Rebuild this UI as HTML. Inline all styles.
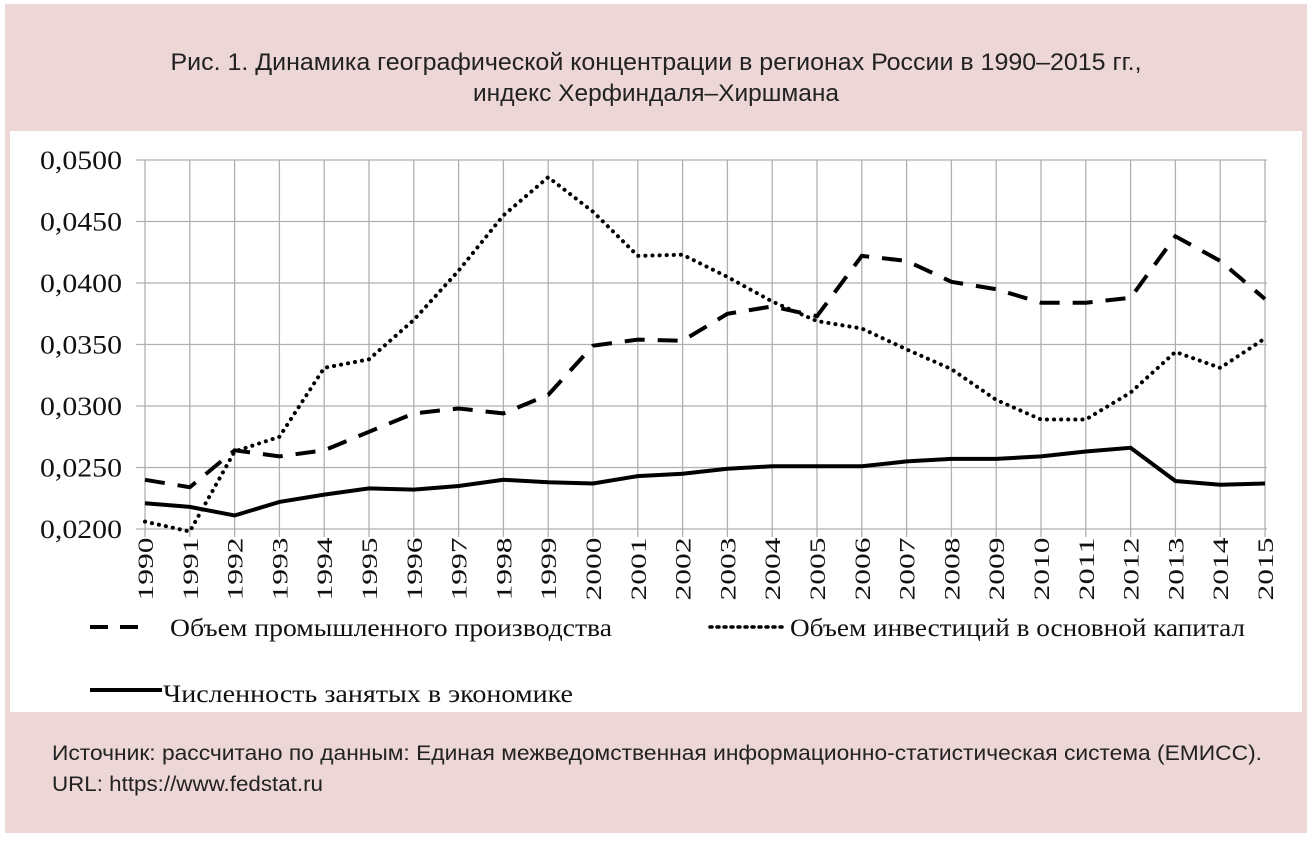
<!DOCTYPE html>
<html><head><meta charset="utf-8"><style>
html,body{margin:0;padding:0;background:#fff;}
svg{display:block;}
</style></head><body>
<svg width="1312" height="846" viewBox="0 0 1312 846" xmlns="http://www.w3.org/2000/svg">
<rect x="5" y="4" width="1302" height="829" fill="#ecd6d6"/>
<rect x="10" y="131" width="1292" height="581" fill="#fff"/>
<g font-family="Liberation Sans, sans-serif" font-size="24" fill="#222" text-anchor="middle">
<text x="656" y="70" textLength="971" lengthAdjust="spacingAndGlyphs">Рис. 1. Динамика географической концентрации в регионах России в 1990–2015 гг.,</text>
<text x="656" y="101" textLength="366" lengthAdjust="spacingAndGlyphs">индекс Херфиндаля–Хиршмана</text>
</g>
<g font-family="Liberation Sans, sans-serif" font-size="21" fill="#222">
<text x="52" y="760" textLength="1210" lengthAdjust="spacingAndGlyphs">Источник: рассчитано по данным: Единая межведомственная информационно-статистическая система (ЕМИСС).</text>
<text x="52" y="791" textLength="271" lengthAdjust="spacingAndGlyphs">URL: https://www.fedstat.ru</text>
</g>
<g id="grid" stroke="#b0b0b0" stroke-width="1.3"></g>
<g id="ylab" font-family="Liberation Serif, serif" font-size="26" fill="#111" text-anchor="end"></g>
<g id="xlab" font-family="Liberation Serif, serif" font-size="22" fill="#111"></g>
<g id="series" fill="none" stroke="#000" stroke-width="3.5"></g>
<g font-family="Liberation Serif, serif" font-size="25" fill="#111">
<line x1="90" y1="627" x2="150" y2="627" stroke="#000" stroke-width="4" stroke-dasharray="18,12"/>
<text x="170" y="636" textLength="442" lengthAdjust="spacingAndGlyphs">Объем промышленного производства</text>
<line x1="710" y1="627" x2="782" y2="627" stroke="#000" stroke-width="3.5" stroke-dasharray="2,5" stroke-linecap="round"/>
<text x="790" y="636" textLength="455" lengthAdjust="spacingAndGlyphs">Объем инвестиций в основной капитал</text>
</g>
<svg x="0" y="0" width="1312" height="712">
<line x1="90" y1="690" x2="162" y2="690" stroke="#000" stroke-width="4"/>
<text x="163" y="702" font-family="Liberation Serif, serif" font-size="25" fill="#111" textLength="410" lengthAdjust="spacingAndGlyphs">Численность занятых в экономике</text>
</svg>
</svg>
<script>
const ns="http://www.w3.org/2000/svg";
const X=i=>145+i*44.8, Y=v=>160+(0.05-v)*12300;
const g=document.getElementById('grid'),yl=document.getElementById('ylab'),xl=document.getElementById('xlab'),s=document.getElementById('series');
function el(p,t,a){const e=document.createElementNS(ns,t);for(const k in a)e.setAttribute(k,a[k]);p.appendChild(e);return e;}
for(let i=0;i<=6;i++){const v=0.02+i*0.005,y=Y(v);el(g,'line',{x1:136,x2:1267,y1:y,y2:y});
const t=el(yl,'text',{x:122,y:y+9,textLength:82,lengthAdjust:'spacingAndGlyphs'});t.textContent='0,0'+Math.round(v*10000);}
for(let i=0;i<=25;i++){const x=X(i);el(g,'line',{x1:x,x2:x,y1:160,y2:537});
const t=el(xl,'text',{transform:`translate(${x+8},${569}) rotate(-90)`,'text-anchor':'middle',textLength:63,lengthAdjust:'spacingAndGlyphs'});t.textContent=1990+i;}
const d=[.0240,.0234,.0264,.0259,.0264,.0279,.0294,.0298,.0294,.0309,.0349,.0354,.0353,.0375,.0381,.0373,.0422,.0418,.0401,.0395,.0384,.0384,.0388,.0438,.0418,.0387];
const o=[.0206,.0198,.0263,.0275,.0331,.0338,.0370,.0410,.0455,.0486,.0458,.0422,.0423,.0405,.0385,.0369,.0363,.0346,.0330,.0305,.0289,.0289,.0311,.0344,.0331,.0355];
const l=[.0221,.0218,.0211,.0222,.0228,.0233,.0232,.0235,.0240,.0238,.0237,.0243,.0245,.0249,.0251,.0251,.0251,.0255,.0257,.0257,.0259,.0263,.0266,.0239,.0236,.0237];
const pts=a=>a.map((v,i)=>X(i).toFixed(1)+','+Y(v).toFixed(1)).join(' ');
el(s,'polyline',{points:pts(d),'stroke-dasharray':'20,13','stroke-width':4});
el(s,'polyline',{points:pts(o),'stroke-dasharray':'0.1,7','stroke-linecap':'round','stroke-width':4});
el(s,'polyline',{points:pts(l),'stroke-width':4});
</script>
</body></html>
